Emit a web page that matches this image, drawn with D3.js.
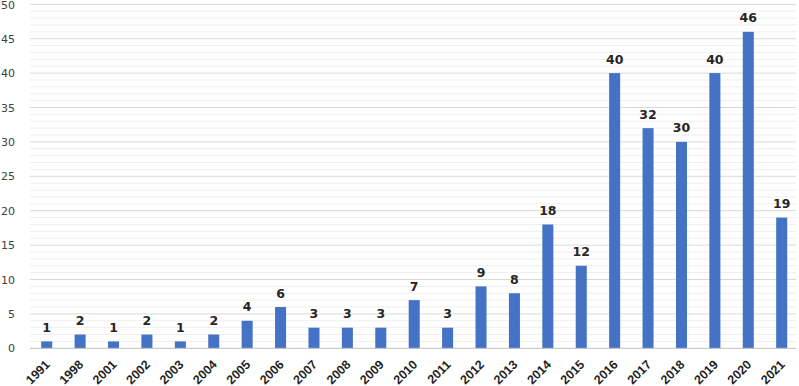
<!DOCTYPE html>
<html>
<head>
<meta charset="utf-8">
<script src="https://cdn.jsdelivr.net/npm/d3@7"></script>
<style>
  body { margin: 0; background: #fff; }
  svg { display: block; }
</style>
</head>
<body>
<div id="chart"></div>
<script>
// Publications per year – simple column chart

const years = ['1991', '1998', '2001', '2002', '2003', '2004', '2005', '2006', '2007', '2008',
    '2009', '2010', '2011', '2012', '2013', '2014', '2015', '2016', '2017', '2018',
    '2019', '2020', '2021'];
const counts = [1, 2, 1, 2, 1, 2, 4, 6, 3, 3, 3, 7, 3, 9, 8, 18, 12, 40, 32, 30, 40, 46, 19];
const yTicks = [0, 5, 10, 15, 20, 25, 30, 35, 40, 45, 50];
const yMinor = d3.range(0, 51, 1);

const width = 799, height = 386;
const margin = { top: 4.3, right: 0.6, bottom: 37.7, left: 30 };

const svg = d3.select('#chart')
    .append('svg')
    .attr('width', width)
    .attr('height', height);

const x = d3.scaleBand()
    .domain(years)
    .range([margin.left, width - margin.right])
    .paddingInner(0.67)
    .paddingOuter(0.335);

const y = d3.scaleLinear()
    .domain([0, 50])
    .range([height - margin.bottom, margin.top]);

// minor grid (every unit)
svg.append('g')
    .selectAll('line')
    .data(yMinor.filter(v => v % 5 !== 0))
    .join('line')
    .attr('x1', margin.left)
    .attr('x2', width - 3)
    .attr('y1', d => y(d))
    .attr('y2', d => y(d))
    .attr('stroke', '#efefef')
    .attr('stroke-width', 1);

// major grid
svg.append('g')
    .selectAll('line')
    .data(yTicks.filter(v => v > 0))
    .join('line')
    .attr('x1', margin.left)
    .attr('x2', width - 3)
    .attr('y1', d => y(d))
    .attr('y2', d => y(d))
    .attr('stroke', '#d9d9d9')
    .attr('stroke-width', 1);

// y axis labels
const yAxis = svg.append('g')
    .attr('transform', `translate(${margin.left},0)`)
    .call(d3.axisLeft(y).tickValues(yTicks).tickSize(0).tickPadding(15));
yAxis.select('.domain').remove();
yAxis.selectAll('text')
    .attr('font-family', '"DejaVu Sans", sans-serif')
    .attr('font-size', '11px')
    .attr('fill', '#404040')
    .attr('dy', d => d === 50 ? '0.42em' : '0.32em');

// bars
svg.append('g')
    .selectAll('rect')
    .data(counts)
    .join('rect')
    .attr('x', (d, i) => x(years[i]))
    .attr('y', d => y(d))
    .attr('width', x.bandwidth())
    .attr('height', d => y(0) - y(d))
    .attr('fill', '#4472c4');

// baseline
svg.append('line')
    .attr('x1', margin.left)
    .attr('x2', width - 3)
    .attr('y1', y(0))
    .attr('y2', y(0))
    .attr('stroke', '#bfbfbf')
    .attr('stroke-width', 1);

// value labels
svg.append('g')
    .selectAll('text')
    .data(counts)
    .join('text')
    .attr('x', (d, i) => x(years[i]) + x.bandwidth() / 2)
    .attr('y', d => y(d) - 9.5)
    .attr('text-anchor', 'middle')
    .attr('font-family', '"DejaVu Sans", sans-serif')
    .attr('font-size', '12.5px')
    .attr('font-weight', 'bold')
    .attr('fill', '#262626')
    .text(d => d);

// x axis labels, rotated
const xAxis = svg.append('g')
    .attr('transform', `translate(0,${y(0)})`)
    .call(d3.axisBottom(x).tickSize(0).tickPadding(0));
xAxis.select('.domain').remove();
xAxis.selectAll('text')
    .attr('font-family', '"Liberation Sans", Arial, sans-serif')
    .attr('font-size', '12.5px')
    .attr('font-weight', 'bold')
    .attr('fill', '#1f1f1f')
    .attr('text-anchor', 'end')
    .attr('dy', 0)
    .attr('transform', 'translate(4,17) rotate(-45)');
</script>
</body>
</html>
